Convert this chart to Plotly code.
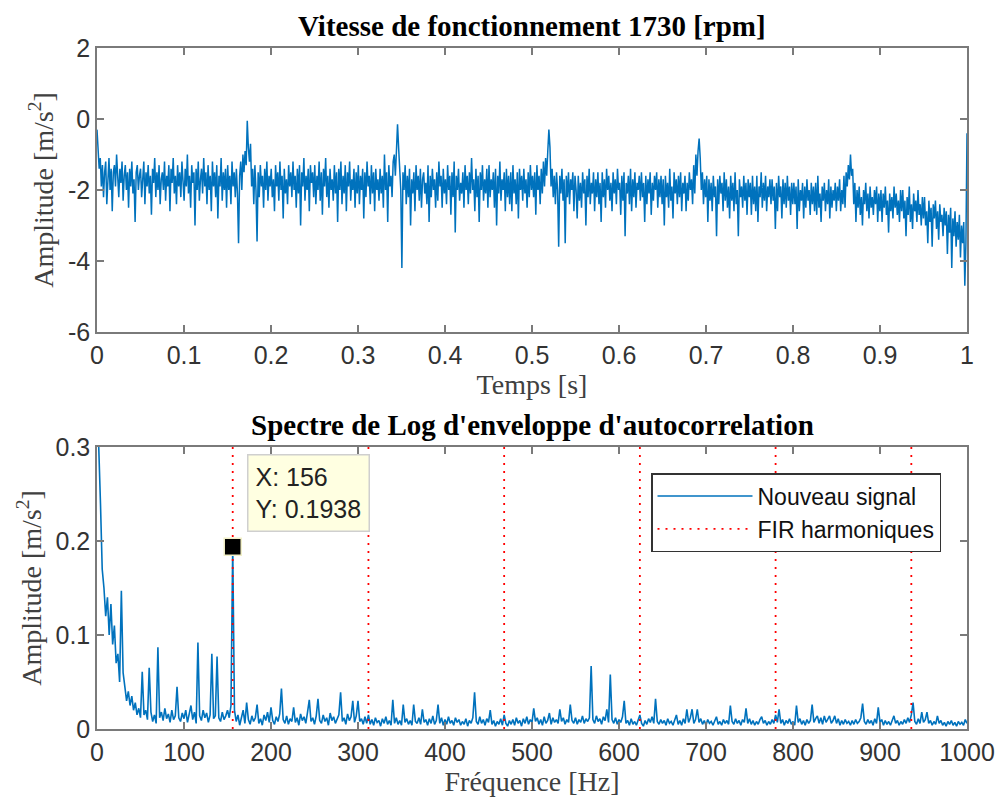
import numpy as np
import plotly.graph_objects as go

# ---------------- data ----------------
signal_title = "Vitesse de fonctionnement 1730 [rpm]"
spectrum_title = "Spectre de Log d'enveloppe d'autocorrelation"

# time signal, 800 samples over 0..1 s
signal_amp = [
    -0.3,-0.9,-1.4,-1.1,-1.9,-1.3,-2.2,-1.5,-1.2,-2.4,-1.6,-1.1,-2.0,-1.4,-2.6,-1.5,-1.3,-1.9,-1.0,-1.7,
    -2.2,-1.4,-1.8,-1.2,-2.3,-1.6,-1.3,-2.0,-1.5,-2.5,-1.4,-1.9,-1.2,-2.1,-1.7,-2.9,-1.5,-1.3,-2.0,-1.6,
    -1.4,-2.2,-1.7,-1.2,-2.4,-1.5,-1.9,-1.3,-2.1,-1.6,-2.7,-1.4,-1.8,-1.1,-2.2,-1.5,-2.0,-1.3,-2.4,-1.7,
    -1.5,-2.0,-1.2,-2.3,-1.6,-1.9,-1.3,-2.6,-1.4,-1.8,-1.1,-2.1,-1.6,-2.4,-1.3,-1.9,-1.5,-2.2,-1.2,-1.8,
    -2.3,-1.4,-1.9,-1.0,-2.1,-1.6,-2.5,-1.3,-1.8,-1.5,-3.0,-1.4,-2.0,-1.2,-2.3,-1.7,-1.4,-2.1,-1.1,-1.9,
    -1.5,-2.4,-1.3,-2.0,-1.6,-2.6,-1.2,-1.9,-1.5,-2.2,-1.3,-2.8,-1.6,-1.9,-1.1,-2.3,-1.5,-2.0,-1.4,-2.5,
    -1.3,-2.0,-1.6,-2.4,-1.2,-1.9,-1.5,-2.2,-1.4,-2.1,-3.5,-1.6,-1.2,-2.0,-1.0,-1.5,-0.9,-1.3,-0.05,-0.8,
    -1.2,-0.7,-1.9,-1.4,-2.4,-1.3,-2.0,-3.45,-1.5,-2.2,-1.3,-1.9,-1.6,-2.5,-1.4,-2.0,-1.2,-2.3,-1.6,-1.9,
    -1.4,-2.2,-1.7,-2.6,-1.3,-1.9,-1.5,-2.3,-1.2,-2.0,-1.6,-2.8,-1.4,-2.1,-1.7,-2.4,-1.3,-1.9,-1.5,-2.2,
    -1.2,-2.0,-1.6,-2.5,-1.4,-2.1,-1.3,-3.0,-1.5,-1.9,-1.1,-2.3,-1.6,-2.0,-1.4,-2.6,-1.3,-1.8,-1.5,-2.2,
    -1.3,-2.4,-1.6,-2.0,-1.2,-2.3,-1.5,-2.7,-1.4,-1.9,-1.1,-2.2,-1.6,-2.5,-1.4,-2.0,-1.7,-2.3,-1.3,-2.1,
    -1.5,-2.9,-1.4,-2.0,-1.2,-2.4,-1.6,-2.1,-1.3,-2.6,-1.5,-1.9,-1.2,-2.3,-1.7,-2.0,-1.4,-2.5,-1.5,-2.1,
    -1.3,-2.4,-1.6,-2.0,-1.4,-2.8,-1.5,-2.2,-1.2,-1.9,-1.6,-2.4,-1.3,-2.1,-1.5,-2.6,-1.4,-2.0,-1.7,-2.3,
    -1.4,-2.1,-1.6,-2.5,-1.0,-2.0,-1.5,-2.9,-1.3,-1.9,-1.6,-2.2,-1.2,-1.0,-1.6,-0.9,-0.15,-0.8,-1.4,-2.0,
    -4.2,-1.5,-2.0,-1.3,-2.4,-1.6,-2.2,-1.4,-3.0,-1.7,-2.1,-1.5,-2.6,-1.3,-2.0,-1.6,-2.3,-1.4,-2.5,-1.7,
    -1.5,-2.1,-1.8,-2.4,-1.3,-2.9,-1.6,-2.2,-1.4,-2.0,-1.7,-2.5,-1.5,-2.3,-1.2,-1.9,-1.6,-2.5,-1.4,-2.1,
    -1.7,-2.4,-1.3,-2.0,-1.6,-2.7,-1.5,-2.2,-1.2,-3.2,-1.6,-2.0,-1.4,-2.3,-1.8,-2.1,-1.5,-2.5,-1.3,-2.0,
    -1.6,-2.4,-1.5,-2.1,-1.1,-2.0,-1.7,-2.6,-1.4,-2.2,-1.6,-2.9,-1.5,-2.0,-1.3,-2.3,-1.7,-2.1,-1.4,-2.5,
    -1.3,-2.2,-1.7,-2.0,-1.5,-2.5,-1.4,-3.0,-1.6,-2.1,-1.2,-2.3,-1.7,-2.0,-1.5,-2.6,-1.4,-2.2,-1.6,-2.4,
    -1.5,-2.6,-1.3,-2.1,-1.7,-2.4,-1.5,-2.8,-1.4,-2.0,-1.6,-2.3,-1.4,-2.1,-1.7,-2.5,-1.5,-2.2,-1.3,-2.0,
    -1.6,-2.2,-1.5,-2.7,-1.3,-2.0,-1.6,-2.4,-1.4,-2.1,-1.2,-1.9,-1.1,-1.6,-0.9,-0.3,-0.8,-1.9,-1.4,-2.2,
    -1.6,-2.4,-1.5,-2.0,-3.6,-1.6,-2.1,-1.4,-2.3,-1.7,-3.5,-1.6,-2.2,-1.5,-2.4,-1.7,-2.0,-1.5,-2.6,-1.6,
    -2.0,-2.8,-1.6,-2.3,-1.8,-2.5,-1.5,-2.1,-1.7,-3.0,-1.6,-2.2,-1.4,-2.4,-1.8,-2.1,-1.5,-2.6,-1.7,-2.2,
    -1.5,-2.4,-1.8,-2.9,-1.5,-2.2,-1.7,-2.5,-1.4,-2.0,-1.6,-2.3,-1.8,-2.6,-1.5,-2.1,-1.7,-2.4,-1.4,-2.0,
    -1.8,-2.7,-1.6,-2.3,-1.5,-3.3,-1.8,-2.1,-1.6,-2.4,-1.4,-2.6,-1.7,-2.2,-1.5,-2.5,-1.8,-2.0,-1.6,-2.3,
    -1.5,-2.2,-1.8,-2.9,-1.6,-2.4,-1.7,-2.1,-1.5,-2.7,-1.8,-2.3,-1.6,-2.0,-1.5,-2.5,-1.7,-2.2,-1.6,-2.4,
    -1.7,-3.0,-1.6,-2.2,-1.8,-2.5,-1.4,-2.3,-1.9,-2.8,-1.5,-2.1,-1.7,-2.4,-1.6,-2.2,-1.5,-2.6,-1.8,-2.1,
    -1.6,-2.6,-1.8,-2.3,-1.5,-2.0,-1.7,-2.4,-1.3,-2.1,-1.0,-1.6,-0.9,-0.55,-1.1,-2.0,-1.5,-2.4,-1.7,-2.2,
    -1.6,-2.9,-1.7,-2.3,-1.8,-2.6,-1.6,-2.2,-1.9,-3.3,-1.7,-2.4,-1.6,-2.1,-1.8,-2.6,-1.5,-2.3,-1.7,-2.5,
    -1.9,-2.8,-1.6,-2.3,-1.8,-2.6,-1.5,-2.4,-2.0,-3.3,-1.7,-2.2,-1.9,-2.5,-1.6,-2.3,-1.8,-2.7,-1.7,-2.2,
    -1.8,-2.7,-1.6,-2.4,-1.9,-2.6,-1.6,-2.9,-1.9,-2.2,-1.5,-2.5,-1.8,-2.3,-1.6,-2.6,-1.9,-2.2,-1.7,-2.4,
    -1.7,-2.3,-1.9,-3.1,-1.8,-2.6,-1.6,-2.2,-1.9,-2.8,-1.7,-2.4,-1.8,-2.5,-1.6,-2.3,-1.9,-2.7,-1.8,-2.4,
    -1.8,-2.4,-1.9,-3.1,-1.7,-2.6,-2.0,-2.3,-1.8,-2.8,-1.9,-2.5,-1.7,-2.3,-2.0,-2.7,-1.8,-2.4,-1.9,-2.6,
    -1.8,-2.7,-1.6,-2.5,-2.1,-2.9,-1.9,-2.3,-1.8,-2.6,-2.0,-2.4,-1.7,-2.8,-1.9,-2.5,-2.0,-2.3,-1.8,-2.6,
    -1.9,-2.3,-1.7,-2.6,-2.0,-2.4,-1.6,-2.5,-1.5,-1.9,-1.3,-1.7,-1.0,-1.6,-1.4,-2.4,-1.8,-2.9,-2.0,-2.5,
    -1.9,-2.7,-2.2,-3.0,-2.0,-2.4,-1.8,-2.6,-2.1,-2.8,-1.9,-2.5,-2.2,-2.7,-2.0,-2.4,-1.9,-2.9,-2.1,-2.6,
    -2.0,-2.9,-2.1,-2.5,-1.9,-2.7,-2.3,-3.2,-2.1,-2.6,-2.2,-2.8,-1.9,-2.5,-2.1,-2.7,-2.3,-2.9,-2.0,-2.6,
    -2.0,-2.8,-2.3,-3.3,-2.2,-2.7,-1.9,-2.9,-2.4,-3.1,-2.1,-2.6,-2.3,-2.9,-2.0,-2.7,-2.4,-3.0,-2.2,-2.8,
    -2.2,-3.0,-2.6,-3.5,-2.3,-2.9,-2.5,-3.6,-2.4,-2.8,-2.3,-3.1,-2.6,-3.4,-2.4,-2.9,-2.7,-3.3,-2.5,-3.0,
    -2.6,-3.8,-2.7,-3.2,-2.5,-4.2,-2.8,-3.3,-2.6,-3.6,-2.9,-3.4,-2.7,-3.9,-3.0,-3.5,-2.9,-4.7,-3.5,-0.4,
]
time_s = np.linspace(0.0, 1.0, len(signal_amp))

# spectrum, 2 Hz resolution 0..1000 Hz
spectrum_amp = [
    0.45,0.30,0.24,0.17,0.15,0.12,0.14,0.10,0.133,0.09,0.11,0.07,0.08,0.05,0.147,0.06,0.045,0.03,0.04,0.025,0.035,0.02,0.028,0.015,0.022,
    0.012,0.061,0.015,0.02,0.01,0.065,0.018,0.008,0.015,0.006,0.087,0.012,0.018,0.009,0.022,0.011,0.016,0.007,0.02,0.01,0.014,0.045,0.012,0.008,0.017,
    0.011,0.02,0.007,0.016,0.025,0.01,0.018,0.006,0.092,0.014,0.009,0.02,0.012,0.017,0.007,0.015,0.080,0.011,0.014,0.077,0.012,0.008,0.018,0.01,0.014,
    0.02,0.012,0.025,0.1938,0.02,0.008,0.015,0.004,0.012,0.02,0.006,0.028,0.01,0.005,0.014,0.008,0.012,0.026,0.006,0.011,0.004,0.015,0.009,0.018,0.007,
    0.023,0.009,0.005,0.013,0.008,0.016,0.043,0.01,0.006,0.014,0.005,0.011,0.008,0.023,0.007,0.012,0.004,0.016,0.009,0.013,0.006,0.018,0.031,0.008,0.012,
    0.005,0.014,0.032,0.009,0.006,0.015,0.008,0.012,0.004,0.017,0.009,0.013,0.006,0.011,0.015,0.039,0.008,0.012,0.005,0.016,0.009,0.013,0.030,0.007,0.014,
    0.030,0.008,0.011,0.005,0.013,0.006,0.015,0.005,0.01,0.004,0.012,0.007,0.009,0.003,0.011,0.006,0.013,0.005,0.009,0.004,0.031,0.006,0.012,0.005,0.009,
    0.004,0.026,0.007,0.011,0.005,0.009,0.004,0.026,0.008,0.006,0.012,0.005,0.021,0.007,0.01,0.004,0.011,0.006,0.014,0.005,0.009,0.026,0.006,0.012,0.004,
    0.01,0.005,0.013,0.006,0.009,0.004,0.012,0.007,0.01,0.004,0.008,0.005,0.011,0.003,0.009,0.006,0.012,0.039,0.008,0.005,0.013,0.006,0.01,0.004,0.011,
    0.007,0.020,0.005,0.009,0.003,0.008,0.005,0.011,0.004,0.015,0.006,0.003,0.009,0.005,0.01,0.004,0.012,0.006,0.009,0.003,0.011,0.006,0.013,0.005,0.01,
    0.007,0.022,0.008,0.012,0.005,0.01,0.004,0.013,0.006,0.009,0.017,0.005,0.012,0.007,0.01,0.006,0.021,0.008,0.012,0.005,0.01,0.007,0.026,0.009,0.006,
    0.012,0.005,0.01,0.007,0.014,0.006,0.011,0.008,0.012,0.067,0.01,0.006,0.014,0.008,0.011,0.005,0.013,0.009,0.021,0.007,0.058,0.01,0.006,0.012,0.005,
    0.01,0.007,0.013,0.030,0.006,0.009,0.004,0.011,0.005,0.008,0.004,0.01,0.015,0.006,0.003,0.009,0.005,0.011,0.007,0.013,0.006,0.032,0.008,0.005,0.01,
    0.006,0.009,0.004,0.011,0.006,0.008,0.004,0.01,0.015,0.005,0.009,0.004,0.011,0.006,0.021,0.007,0.012,0.021,0.006,0.01,0.021,0.007,0.011,0.005,0.009,
    0.004,0.01,0.006,0.008,0.004,0.009,0.013,0.005,0.008,0.004,0.01,0.006,0.009,0.005,0.025,0.008,0.005,0.011,0.006,0.009,0.004,0.01,0.007,0.022,0.006,
    0.011,0.005,0.009,0.004,0.008,0.005,0.01,0.013,0.006,0.009,0.004,0.008,0.005,0.01,0.006,0.015,0.007,0.021,0.006,0.01,0.004,0.009,0.006,0.011,0.005,
    0.008,0.004,0.025,0.007,0.011,0.005,0.009,0.004,0.01,0.006,0.009,0.026,0.007,0.011,0.014,0.006,0.012,0.005,0.014,0.007,0.01,0.014,0.006,0.009,0.014,
    0.006,0.011,0.004,0.009,0.005,0.01,0.006,0.008,0.004,0.009,0.005,0.01,0.006,0.008,0.012,0.027,0.008,0.005,0.01,0.006,0.009,0.004,0.011,0.006,0.023,
    0.007,0.01,0.004,0.009,0.005,0.008,0.004,0.01,0.014,0.006,0.009,0.004,0.008,0.005,0.01,0.006,0.012,0.007,0.015,0.028,0.008,0.005,0.011,0.006,0.018,
    0.007,0.01,0.018,0.006,0.009,0.004,0.008,0.005,0.014,0.006,0.009,0.004,0.007,0.003,0.008,0.005,0.009,0.004,0.007,0.003,0.008,0.005,0.007,0.004,0.010,
    0.006,
]
freq_hz = np.arange(0, 2 * len(spectrum_amp), 2)

harmonics_hz = [156, 312, 468, 624, 780, 936]
tip_x = 156
tip_y = 0.1938

legend_names = ["Nouveau signal", "FIR harmoniques"]

top_yticks = [-6, -4, -2, 0, 2]
top_yticktext = ["-6", "-4", "-2", "0", "2"]

# ---------------- styling ----------------
BLUE = "#0072BD"
AXC = "#7a7a7a"
TICKFONT = dict(family="Liberation Sans, Arial, sans-serif", size=25, color="#333333")
LABELFONT = dict(family="Liberation Serif, Times New Roman, serif", size=28, color="#404040")
TITLEFONT = dict(family="Liberation Serif, Times New Roman, serif", size=29, color="#000000")

W, H = 998, 807
def px_x(p):
    return p / W
def px_y(p):
    return 1 - p / H

fig = go.Figure()

fig.add_trace(go.Scatter(x=time_s, y=signal_amp, mode="lines",
                         line=dict(color=BLUE, width=1.5),
                         xaxis="x", yaxis="y", showlegend=False))

fig.add_trace(go.Scatter(x=freq_hz, y=spectrum_amp, mode="lines",
                         line=dict(color=BLUE, width=1.6),
                         xaxis="x2", yaxis="y2", name=legend_names[0]))

hx, hy = [], []
for h in harmonics_hz:
    hx += [h, h, None]
    hy += [0, 0.3, None]
fig.add_trace(go.Scatter(x=hx, y=hy, mode="lines",
                         line=dict(color="#ff0000", width=1.8, dash="2px,6px"),
                         xaxis="x2", yaxis="y2", name=legend_names[1]))

fig.add_trace(go.Scatter(x=[tip_x], y=[tip_y], mode="markers",
                         marker=dict(symbol="square", size=17, color="black",
                                     line=dict(color="#f2f0c8", width=1.5)),
                         xaxis="x2", yaxis="y2", showlegend=False))

axis_common = dict(showline=True, linecolor=AXC, linewidth=1.5, mirror="ticks",
                   ticks="inside", ticklen=7, tickcolor=AXC, tickwidth=1.5,
                   showgrid=False, zeroline=False, tickfont=TICKFONT, automargin=False)

dom_x = [px_x(97), px_x(967)]
fig.update_layout(
    width=W, height=H,
    margin=dict(l=0, r=0, t=0, b=0, autoexpand=False),
    paper_bgcolor="white", plot_bgcolor="white",
    xaxis=dict(domain=dom_x, range=[0, 1], dtick=0.1, tick0=0, anchor="y",
               title=dict(text="Temps [s]", font=LABELFONT, standoff=4), **axis_common),
    yaxis=dict(domain=[px_y(332), px_y(48)], range=[-6, 2], tickvals=top_yticks,
               ticktext=top_yticktext, anchor="x",
               title=dict(text="Amplitude [m/s<sup>2</sup>]", font=LABELFONT, standoff=6),
               **axis_common),
    xaxis2=dict(domain=dom_x, range=[0, 1000], dtick=100, tick0=0, anchor="y2",
                title=dict(text="Fréquence [Hz]", font=LABELFONT, standoff=4), **axis_common),
    yaxis2=dict(domain=[px_y(729), px_y(447)], range=[0, 0.3], dtick=0.1, tick0=0,
                anchor="x2",
                title=dict(text="Amplitude [m/s<sup>2</sup>]", font=LABELFONT, standoff=6),
                **axis_common),
    legend=dict(x=px_x(941), y=px_y(473), xanchor="right", yanchor="top",
                bgcolor="white", bordercolor="#333333", borderwidth=1.5,
                font=dict(family="Liberation Sans, Arial, sans-serif", size=23, color="#111111"),
                itemwidth=95, tracegroupgap=0),
    showlegend=True,
)

fig.add_annotation(text="<b>" + signal_title + "</b>", xref="paper", yref="paper",
                   x=(dom_x[0] + dom_x[1]) / 2, y=px_y(48), yanchor="bottom",
                   yshift=4, showarrow=False, font=TITLEFONT)
fig.add_annotation(text="<b>" + spectrum_title + "</b>", xref="paper", yref="paper",
                   x=(dom_x[0] + dom_x[1]) / 2, y=px_y(447), yanchor="bottom",
                   yshift=4, showarrow=False, font=TITLEFONT)

fig.add_annotation(text="X: %d<br>Y: %.4f" % (tip_x, tip_y), xref="x2", yref="y2",
                   x=tip_x, y=tip_y, xanchor="left", yanchor="bottom",
                   xshift=14, yshift=15, showarrow=False, align="left",
                   bgcolor="#ffffe1", bordercolor="#cfcfcf", borderwidth=1.5, borderpad=7,
                   font=dict(family="Liberation Sans, Arial, sans-serif", size=25, color="#222222"))

fig.write_html("out.html", config={"displayModeBar": False},
               post_script="document.body.style.margin='0';")
